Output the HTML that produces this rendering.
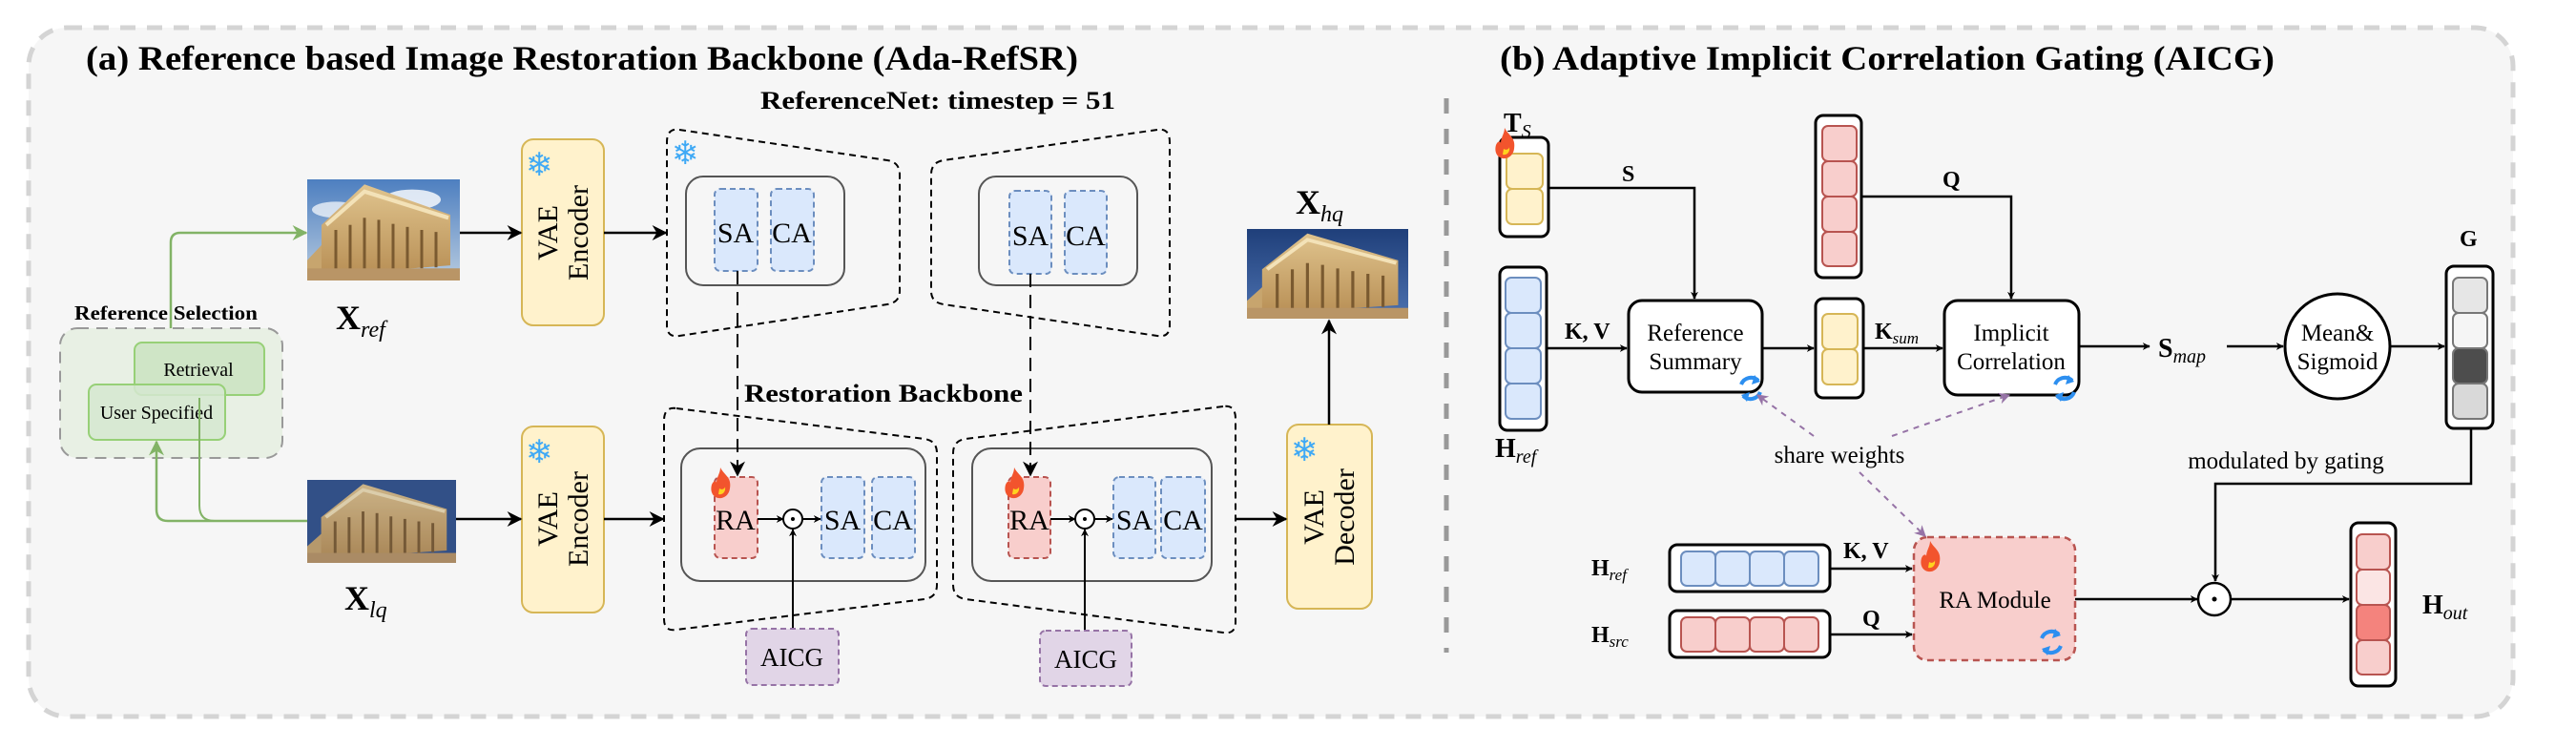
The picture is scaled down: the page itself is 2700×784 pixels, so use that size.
<!DOCTYPE html>
<html><head><meta charset="utf-8"><style>
html,body{margin:0;padding:0;background:#fff;}
svg{display:block;}
text{font-family:"Liberation Serif",serif;fill:#000;}
</style></head><body>
<svg width="2700" height="784" viewBox="0 0 2700 784" xmlns="http://www.w3.org/2000/svg">
<defs>
<marker id="ar" viewBox="0 0 10 10" refX="9" refY="5" markerWidth="8" markerHeight="8" orient="auto-start-reverse" markerUnits="userSpaceOnUse"><path d="M0,0 L10,5 L0,10 L3,5 z" fill="#000"/></marker>
<marker id="arb" viewBox="0 0 10 10" refX="9" refY="5" markerWidth="16" markerHeight="16" orient="auto" markerUnits="userSpaceOnUse"><path d="M0,0 L10,5 L0,10 L3,5 z" fill="#000"/></marker>
<marker id="arg" viewBox="0 0 10 10" refX="9" refY="5" markerWidth="16" markerHeight="16" orient="auto" markerUnits="userSpaceOnUse"><path d="M0,0 L10,5 L0,10 L3,5 z" fill="#82b366"/></marker>
<marker id="arp" viewBox="0 0 10 10" refX="9" refY="5" markerWidth="12" markerHeight="12" orient="auto" markerUnits="userSpaceOnUse"><path d="M0,0 L10,5 L0,10 L3,5 z" fill="#9673a6"/></marker>
<linearGradient id="sky1" x1="0" y1="0" x2="0" y2="1"><stop offset="0" stop-color="#4d7fc0"/><stop offset="1" stop-color="#b7cbe0"/></linearGradient>
<linearGradient id="sky2" x1="0" y1="0" x2="0" y2="1"><stop offset="0" stop-color="#1f3f7a"/><stop offset="1" stop-color="#4d72b0"/></linearGradient>
<linearGradient id="stone" x1="0" y1="0" x2="0" y2="1"><stop offset="0" stop-color="#e0c48e"/><stop offset="1" stop-color="#b88f55"/></linearGradient>
<g id="temple">
 <path d="M0,80 L20,60 L40,70 L40,100 L0,100z" fill="#c7a56e"/>
 <path d="M15,45 L60,5 L150,35 L150,85 L15,95 z" fill="url(#stone)"/>
 <path d="M20,45 L60,12 L148,38" fill="none" stroke="#f3e2b8" stroke-width="4"/>
 <g stroke="#7a5a30" stroke-width="3">
 <line x1="30" y1="50" x2="30" y2="92"/><line x1="45" y1="45" x2="45" y2="92"/><line x1="60" y1="38" x2="60" y2="92"/><line x1="75" y1="40" x2="75" y2="90"/><line x1="90" y1="44" x2="90" y2="90"/><line x1="105" y1="47" x2="105" y2="88"/><line x1="120" y1="50" x2="120" y2="88"/><line x1="135" y1="52" x2="135" y2="87"/></g>
 <rect x="0" y="88" width="160" height="12" fill="#b99566"/>
</g>
<g id="fire"><path d="M10,0 C14,8 22,10 20,22 C19,30 12,33 8,32 C2,31 -1,25 1,18 C3,13 6,14 6,16 C6,10 10,6 10,0z" fill="#f2542d"/><path d="M9,22 C12,24 15,22 15,20 C16,26 12,29 8,28z" fill="#ffd21f"/></g>
<g id="cyc" fill="none" stroke="#2d8ff0" stroke-width="4"><path d="M-10,-4 A11,11 0 0 1 8,-8"/><path d="M10,4 A11,11 0 0 1 -8,8"/><path d="M4,-14 L10,-7 L1,-4" fill="#2d8ff0" stroke="none"/><path d="M-4,14 L-10,7 L-1,4" fill="#2d8ff0" stroke="none"/></g>
</defs>

<rect x="30" y="29" width="2604" height="722" rx="40" fill="#f6f6f6" stroke="#d4d4d4" stroke-width="5" stroke-dasharray="16,12"/>
<line x1="1516" y1="103" x2="1516" y2="684" stroke="#999" stroke-width="5" stroke-dasharray="16,16"/>

<text x="90" y="73" font-size="36" font-weight="bold" textLength="1040" lengthAdjust="spacingAndGlyphs">(a) Reference based Image Restoration Backbone (Ada-RefSR)</text>
<text x="797" y="114" font-size="26" font-weight="bold" textLength="372" lengthAdjust="spacingAndGlyphs">ReferenceNet: timestep = 51</text>
<text x="1572" y="73" font-size="36" font-weight="bold" textLength="812" lengthAdjust="spacingAndGlyphs">(b) Adaptive Implicit Correlation Gating (AICG)</text>

<text x="78" y="335" font-size="21" font-weight="bold" textLength="192" lengthAdjust="spacingAndGlyphs">Reference Selection</text>
<rect x="63" y="344" width="233" height="136" rx="18" fill="#e8f0e4" stroke="#999" stroke-width="2" stroke-dasharray="12,8"/>
<rect x="141" y="359" width="136" height="55" rx="8" fill="#cfe5c6" stroke="#97d077" stroke-width="2"/>
<text x="208" y="394" font-size="20" text-anchor="middle">Retrieval</text>
<rect x="93" y="403" width="143" height="58" rx="8" fill="#d5e8d0" fill-opacity="0.85" stroke="#97d077" stroke-width="2"/>
<text x="164" y="439" font-size="20" text-anchor="middle">User Specified</text>
<path d="M179,344 L179,254 Q179,244 189,244 L321,244" fill="none" stroke="#82b366" stroke-width="2.5" marker-end="url(#arg)"/>
<path d="M322,546 L176,546 Q164,546 164,534 L164,463" fill="none" stroke="#82b366" stroke-width="2.5" marker-end="url(#arg)"/>
<path d="M225,546 Q209,546 209,530 L209,417" fill="none" stroke="#82b366" stroke-width="2"/>

<svg x="322" y="188" width="160" height="106" viewBox="0 0 160 100" preserveAspectRatio="none"><rect width="160" height="100" fill="url(#sky1)"/><ellipse cx="110" cy="20" rx="30" ry="10" fill="#fff" opacity=".8"/><ellipse cx="30" cy="30" rx="25" ry="8" fill="#fff" opacity=".7"/><use href="#temple"/></svg>
<svg x="322" y="503" width="156" height="87" viewBox="0 0 160 100" preserveAspectRatio="none"><rect width="160" height="100" fill="#2c4f8e"/><use href="#temple"/><rect width="160" height="100" fill="#556" opacity=".15"/></svg>
<svg x="1307" y="240" width="169" height="94" viewBox="0 0 160 100" preserveAspectRatio="none"><rect width="160" height="100" fill="url(#sky2)"/><use href="#temple"/></svg>
<text x="352" y="345" font-size="36" font-weight="bold">X<tspan font-style="italic" font-weight="normal" font-size="24" dy="8">ref</tspan></text>
<text x="361" y="639" font-size="36" font-weight="bold">X<tspan font-style="italic" font-weight="normal" font-size="24" dy="8">lq</tspan></text>
<text x="1358" y="224" font-size="36" font-weight="bold">X<tspan font-style="italic" font-weight="normal" font-size="24" dy="8">hq</tspan></text>

<g font-size="30">
<rect x="547" y="146" width="86" height="195" rx="12" fill="#fff2cc" stroke="#d6b656" stroke-width="2"/>
<text transform="translate(590,244) rotate(-90)" text-anchor="middle"><tspan x="0" y="-6">VAE</tspan><tspan x="0" y="26">Encoder</tspan></text>
<rect x="547" y="447" width="86" height="195" rx="12" fill="#fff2cc" stroke="#d6b656" stroke-width="2"/>
<text transform="translate(590,544) rotate(-90)" text-anchor="middle"><tspan x="0" y="-6">VAE</tspan><tspan x="0" y="26">Encoder</tspan></text>
<rect x="1349" y="445" width="89" height="193" rx="12" fill="#fff2cc" stroke="#d6b656" stroke-width="2"/>
<text transform="translate(1393,542) rotate(-90)" text-anchor="middle"><tspan x="0" y="-6">VAE</tspan><tspan x="0" y="26">Decoder</tspan></text>
</g>
<g font-size="34"><text x="551" y="184" style="fill:#3fa9f5">❄</text><text x="551" y="485" style="fill:#3fa9f5">❄</text><text x="1353" y="483" style="fill:#3fa9f5">❄</text><text x="704" y="172" style="fill:#3fa9f5">❄</text></g>

<g stroke="#000" stroke-width="2.5" fill="none">
<line x1="482" y1="244" x2="546" y2="244" marker-end="url(#arb)"/>
<line x1="633" y1="244" x2="698" y2="244" marker-end="url(#arb)"/>
<line x1="478" y1="544" x2="546" y2="544" marker-end="url(#arb)"/>
<line x1="633" y1="544" x2="695" y2="544" marker-end="url(#arb)"/>
<line x1="1295" y1="544" x2="1348" y2="544" marker-end="url(#arb)"/>
<line x1="1393" y1="445" x2="1393" y2="336" marker-end="url(#arb)"/>
</g>

<g fill="none" stroke="#000" stroke-width="2" stroke-dasharray="7,5">
<path d="M712,136 L930,168 Q943,170 943,183 L943,305 Q943,317 930,319 L712,352 Q699,354 699,341 L699,149 Q699,134 712,136z"/>
<path d="M1213,136 L989,168 Q976,170 976,183 L976,305 Q976,317 989,319 L1213,352 Q1226,354 1226,341 L1226,149 Q1226,134 1213,136z"/>
<path d="M709,428 L969,460 Q982,462 982,475 L982,613 Q982,626 969,628 L709,660 Q696,662 696,649 L696,441 Q696,426 709,428z"/>
<path d="M1282,426 L1012,460 Q999,462 999,475 L999,613 Q999,626 1012,628 L1282,663 Q1295,665 1295,652 L1295,439 Q1295,424 1282,426z"/>
</g>
<text x="780" y="421" font-size="26" font-weight="bold" textLength="292" lengthAdjust="spacingAndGlyphs">Restoration Backbone</text>

<g stroke="#555" stroke-width="2" fill="none">
<rect x="719" y="185" width="166" height="114" rx="18"/>
<rect x="1026" y="185" width="166" height="114" rx="18"/>
<rect x="714" y="470" width="256" height="139" rx="20"/>
<rect x="1019" y="470" width="251" height="139" rx="20"/>
</g>
<g fill="#dae8fc" stroke="#6c8ebf" stroke-width="2" stroke-dasharray="6,4">
<rect x="749" y="198" width="45" height="86" rx="6"/><rect x="808" y="198" width="45" height="86" rx="6"/>
<rect x="1058" y="200" width="44" height="87" rx="6"/><rect x="1116" y="200" width="44" height="87" rx="6"/>
<rect x="861" y="500" width="45" height="85" rx="6"/><rect x="914" y="500" width="45" height="85" rx="6"/>
<rect x="1167" y="500" width="44" height="85" rx="6"/><rect x="1217" y="500" width="46" height="85" rx="6"/>
</g>
<g fill="#f8cecc" stroke="#b85450" stroke-width="2" stroke-dasharray="6,4">
<rect x="749" y="500" width="45" height="85" rx="6"/><rect x="1057" y="500" width="44" height="85" rx="6"/>
</g>
<g font-size="30" text-anchor="middle">
<text x="771" y="254">SA</text><text x="830" y="254">CA</text>
<text x="1080" y="257">SA</text><text x="1138" y="257">CA</text>
<text x="771" y="555">RA</text><text x="883" y="555">SA</text><text x="936" y="555">CA</text>
<text x="1079" y="555">RA</text><text x="1189" y="555">SA</text><text x="1240" y="555">CA</text>
</g>
<use href="#fire" x="745" y="490"/><use href="#fire" x="1053" y="490"/>
<g stroke="#000" stroke-width="2" fill="none">
<line x1="773" y1="284" x2="773" y2="498" stroke-dasharray="14,8" marker-end="url(#arb)"/>
<line x1="1080" y1="287" x2="1080" y2="498" stroke-dasharray="14,8" marker-end="url(#arb)"/>
<line x1="794" y1="544" x2="821" y2="544" marker-end="url(#ar)"/>
<line x1="841" y1="544" x2="860" y2="544" marker-end="url(#ar)"/>
<line x1="1101" y1="544" x2="1127" y2="544" marker-end="url(#ar)"/>
<line x1="1147" y1="544" x2="1166" y2="544" marker-end="url(#ar)"/>
<line x1="831" y1="659" x2="831" y2="555" marker-end="url(#ar)"/>
<line x1="1137" y1="661" x2="1137" y2="555" marker-end="url(#ar)"/>
<circle cx="831" cy="544" r="10" fill="#fff"/><circle cx="1137" cy="544" r="10" fill="#fff"/>
</g>
<circle cx="831" cy="544" r="2" fill="#000"/><circle cx="1137" cy="544" r="2" fill="#000"/>
<g fill="#e1d5e7" stroke="#9673a6" stroke-width="2" stroke-dasharray="6,4">
<rect x="782" y="659" width="97" height="59" rx="6"/><rect x="1090" y="661" width="96" height="58" rx="6"/>
</g>
<text x="830" y="698" font-size="27" text-anchor="middle">AICG</text>
<text x="1138" y="700" font-size="27" text-anchor="middle">AICG</text>

<g stroke="#000" stroke-width="3" fill="#fff">
<rect x="1572" y="144" width="51" height="104" rx="8"/>
<rect x="1903" y="121" width="48" height="170" rx="8"/>
<rect x="1572" y="280" width="49" height="171" rx="8"/>
<rect x="1903" y="313" width="50" height="104" rx="8"/>
<rect x="1707" y="315" width="140" height="96" rx="14"/>
<rect x="2038" y="315" width="141" height="99" rx="14"/>
<circle cx="2450" cy="363" r="55"/>
<rect x="2564" y="279" width="49" height="170" rx="8"/>
<rect x="1750" y="571" width="168" height="49" rx="8"/>
<rect x="1750" y="640" width="168" height="49" rx="8"/>
<rect x="2464" y="548" width="47" height="171" rx="8"/>
</g>
<g fill="#fff2cc" stroke="#d6b656" stroke-width="2">
<rect x="1579" y="161" width="38" height="37" rx="6"/><rect x="1579" y="198" width="38" height="37" rx="6"/>
<rect x="1910" y="329" width="37" height="37" rx="6"/><rect x="1910" y="366" width="37" height="37" rx="6"/>
</g>
<g fill="#f8cecc" stroke="#b85450" stroke-width="2">
<rect x="1910" y="132" width="36" height="37" rx="6"/><rect x="1910" y="169" width="36" height="37" rx="6"/><rect x="1910" y="206" width="36" height="37" rx="6"/><rect x="1910" y="243" width="36" height="36" rx="6"/>
<rect x="1762" y="647" width="36" height="36" rx="6"/><rect x="1798" y="647" width="36" height="36" rx="6"/><rect x="1834" y="647" width="36" height="36" rx="6"/><rect x="1870" y="647" width="36" height="36" rx="6"/>
<rect x="2470" y="560" width="35" height="37" rx="6"/><rect x="2470" y="597" width="35" height="37" fill="#fbe5e4" rx="6"/><rect x="2470" y="634" width="35" height="37" fill="#f4837d" rx="6"/><rect x="2470" y="671" width="35" height="36" rx="6"/>
</g>
<g fill="#dae8fc" stroke="#6c8ebf" stroke-width="2">
<rect x="1578" y="291" width="37" height="37" rx="6"/><rect x="1578" y="328" width="37" height="37" rx="6"/><rect x="1578" y="365" width="37" height="37" rx="6"/><rect x="1578" y="402" width="37" height="37" rx="6"/>
<rect x="1762" y="578" width="36" height="36" rx="6"/><rect x="1798" y="578" width="36" height="36" rx="6"/><rect x="1834" y="578" width="36" height="36" rx="6"/><rect x="1870" y="578" width="36" height="36" rx="6"/>
</g>
<g stroke="#777" stroke-width="2">
<rect x="2571" y="291" width="36" height="37" rx="6" fill="#e6e6e6"/><rect x="2571" y="328" width="36" height="37" rx="6" fill="#f5f5f5"/><rect x="2571" y="365" width="36" height="37" rx="6" fill="#4d4d4d"/><rect x="2571" y="402" width="36" height="37" rx="6" fill="#d9d9d9"/>
</g>
<rect x="2006" y="563" width="169" height="129" rx="14" fill="#f8cecc" stroke="#b85450" stroke-width="2.5" stroke-dasharray="7,5"/>
<use href="#fire" x="1567" y="134"/><use href="#fire" x="2013" y="567"/>
<use href="#cyc" x="1835" y="407"/><use href="#cyc" x="2164" y="407"/><use href="#cyc" x="2150" y="673"/>

<g font-size="25" text-anchor="middle">
<text x="1777" y="357">Reference</text><text x="1777" y="387">Summary</text>
<text x="2108" y="357">Implicit</text><text x="2108" y="387">Correlation</text>
<text x="2450" y="357">Mean&amp;</text><text x="2450" y="387">Sigmoid</text>
<text x="2091" y="637">RA Module</text>
<text x="1928" y="485">share weights</text>
<text x="2396" y="491">modulated by gating</text>
</g>
<g font-weight="bold" font-size="24">
<text x="1576" y="138" font-size="28">T<tspan font-style="italic" font-weight="normal" font-size="20" dy="6">S</tspan></text>
<text x="1700" y="190">S</text>
<text x="2036" y="196">Q</text>
<text x="1640" y="355">K, V</text>
<text x="1965" y="355">K<tspan font-style="italic" font-weight="normal" font-size="17" dy="5">sum</tspan></text>
<text x="2262" y="374" font-size="28">S<tspan font-style="italic" font-weight="normal" font-size="20" dy="6">map</tspan></text>
<text x="2578" y="258">G</text>
<text x="1567" y="479" font-size="28">H<tspan font-style="italic" font-weight="normal" font-size="20" dy="6">ref</tspan></text>
<text x="1668" y="603" font-size="24">H<tspan font-style="italic" font-weight="normal" font-size="17" dy="5">ref</tspan></text>
<text x="1668" y="673" font-size="24">H<tspan font-style="italic" font-weight="normal" font-size="17" dy="5">src</tspan></text>
<text x="1932" y="585">K, V</text>
<text x="1952" y="656">Q</text>
<text x="2539" y="643" font-size="28">H<tspan font-style="italic" font-weight="normal" font-size="20" dy="6">out</tspan></text>
</g>

<g stroke="#000" stroke-width="2.5" fill="none">
<path d="M1623,197 L1776,197 L1776,313" marker-end="url(#ar)"/>
<path d="M1951,206 L2108,206 L2108,313" marker-end="url(#ar)"/>
<line x1="1621" y1="365" x2="1705" y2="365" marker-end="url(#ar)"/>
<line x1="1847" y1="365" x2="1901" y2="365" marker-end="url(#ar)"/>
<line x1="1953" y1="365" x2="2036" y2="365" marker-end="url(#ar)"/>
<line x1="2179" y1="363" x2="2253" y2="363" marker-end="url(#ar)"/>
<line x1="2334" y1="363" x2="2393" y2="363" marker-end="url(#ar)"/>
<line x1="2505" y1="363" x2="2562" y2="363" marker-end="url(#ar)"/>
<path d="M2590,449 L2590,507 L2322,507 L2322,609" marker-end="url(#ar)"/>
<line x1="1918" y1="596" x2="2004" y2="596" marker-end="url(#ar)"/>
<line x1="1918" y1="665" x2="2004" y2="665" marker-end="url(#ar)"/>
<line x1="2175" y1="628" x2="2303" y2="628" marker-end="url(#ar)"/>
<line x1="2339" y1="628" x2="2462" y2="628" marker-end="url(#ar)"/>
<circle cx="2321" cy="628" r="17" fill="#fff"/>
</g>
<circle cx="2321" cy="628" r="2.5" fill="#000"/>
<g stroke="#9673a6" stroke-width="2" fill="none" stroke-dasharray="6,6">
<line x1="1901" y1="457" x2="1842" y2="414" marker-end="url(#arp)"/>
<line x1="1983" y1="457" x2="2106" y2="414" marker-end="url(#arp)"/>
<line x1="1949" y1="495" x2="2018" y2="562" marker-end="url(#arp)"/>
</g>
</svg>
</body></html>
